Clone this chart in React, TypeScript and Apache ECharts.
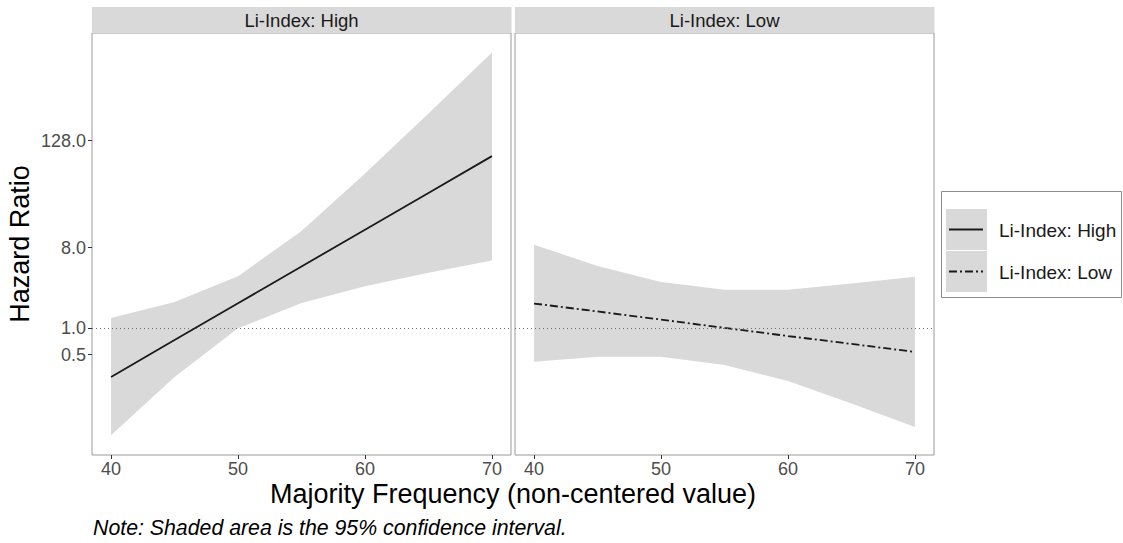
import React, { useEffect, useRef } from "react";
import * as echarts from "echarts";

// Majority frequency (x) and hazard ratios
const xs = [40, 45, 50, 55, 60, 65, 70];
const highFit = [0.28, 0.73, 1.89, 4.91, 12.7, 33.0, 85.6];
const highLower = [0.062, 0.28, 0.99, 1.9, 2.95, 4.17, 5.74];
const highUpper = [1.29, 1.96, 3.81, 12.3, 54.6, 258, 1252];
const lowFit = [1.88, 1.53, 1.24, 1.0, 0.81, 0.66, 0.536];
const lowLower = [0.415, 0.473, 0.473, 0.382, 0.252, 0.141, 0.077];
const lowUpper = [8.63, 4.96, 3.29, 2.69, 2.69, 3.16, 3.76];
const yTicks = [0.5, 1, 8, 128];
const xTicks = [40, 50, 60, 70];
const panels = ["Li-Index: High", "Li-Index: Low"];
const legendLabels = ["Li-Index: High", "Li-Index: Low"];

const FONT = "'Liberation Sans', Arial, sans-serif";
const RIBBON = "#d9d9d9";
const LINE = "#1a1a1a";
const DOTDASH = [8, 3, 2, 3];

const Y_MIN = -4.75;
const Y_MAX = 11.02;

function ribbonSeries(idx: number, lower: number[], upper: number[]) {
  return {
    type: "custom",
    xAxisIndex: idx,
    yAxisIndex: idx,
    z: 1,
    silent: true,
    data: xs.map((x, i) => [x, Math.log2(lower[i]), Math.log2(upper[i])]),
    renderItem: (params: any, api: any) => {
      if (params.dataIndex !== 0) return null;
      const top = xs.map((x, i) => api.coord([x, Math.log2(upper[i])]));
      const bottom = xs
        .map((x, i) => api.coord([x, Math.log2(lower[i])]))
        .reverse();
      return {
        type: "polygon",
        shape: { points: top.concat(bottom) },
        style: { fill: RIBBON, stroke: "none" },
      };
    },
  };
}

function lineSeries(idx: number, name: string, fit: number[], dash: any) {
  return {
    type: "line",
    name,
    xAxisIndex: idx,
    yAxisIndex: idx,
    z: 3,
    showSymbol: false,
    silent: true,
    data: xs.map((x, i) => [x, Math.log2(fit[i])]),
    lineStyle: { color: LINE, width: 1.8, type: dash },
    markLine: {
      silent: true,
      symbol: ["none", "none"],
      label: { show: false },
      lineStyle: { type: [1, 3], color: "#707070", width: 1 },
      data: [{ yAxis: 0 }],
    },
  };
}

export default function App() {
  const ref = useRef<HTMLDivElement>(null);
  useEffect(() => {
    if (!ref.current) return;
    const chart = echarts.init(ref.current, undefined, { renderer: "svg" });
    const gridLefts = [92, 515];
    const gridW = 419;
    const gridTop = 33;
    const gridH = 422;

    const xAxis = [0, 1].map((i) => ({
      type: "value",
      gridIndex: i,
      position: "bottom",
      min: 38.5,
      max: 71.5,
      axisLine: { show: false, onZero: false },
      splitLine: { show: false },
      axisTick: {
        show: true,
        customValues: xTicks,
        length: 4,
        lineStyle: { color: "#333333", width: 1 },
      },
      axisLabel: {
        customValues: xTicks,
        color: "#4d4d4d",
        fontSize: 18,
        fontFamily: FONT,
        margin: 5,
      },
    }));

    const yAxis = [0, 1].map((i) => ({
      type: "value",
      gridIndex: i,
      position: "left",
      min: Y_MIN,
      max: Y_MAX,
      axisLine: { show: false, onZero: false },
      splitLine: { show: false },
      axisTick: {
        show: i === 0,
        customValues: yTicks.map((v) => Math.log2(v)),
        length: 4,
        lineStyle: { color: "#333333", width: 1 },
      },
      axisLabel: {
        show: i === 0,
        customValues: yTicks.map((v) => Math.log2(v)),
        formatter: (v: number) => Math.pow(2, v).toFixed(1),
        color: "#4d4d4d",
        fontSize: 18,
        fontFamily: FONT,
        margin: 6,
      },
    }));

    const graphic: any[] = [];
    panels.forEach((p, i) => {
      graphic.push({
        type: "rect",
        shape: { x: gridLefts[i], y: 7, width: gridW + 0.5, height: 26 },
        style: { fill: RIBBON },
        silent: true,
      });
      graphic.push({
        type: "text",
        x: gridLefts[i] + gridW / 2,
        y: 20,
        style: {
          text: p,
          fill: "#1a1a1a",
          fontSize: 18.5,
          fontFamily: FONT,
          align: "center",
          verticalAlign: "middle",
        },
        silent: true,
      });
    });
    graphic.push({
      type: "text",
      x: 20,
      y: 244,
      rotation: Math.PI / 2,
      style: {
        text: "Hazard Ratio",
        fill: "#000",
        fontSize: 27,
        fontFamily: FONT,
        align: "center",
        verticalAlign: "middle",
      },
      silent: true,
    });
    graphic.push({
      type: "text",
      x: 513,
      y: 494,
      style: {
        text: "Majority Frequency (non-centered value)",
        fill: "#000",
        fontSize: 27,
        fontFamily: FONT,
        align: "center",
        verticalAlign: "middle",
      },
      silent: true,
    });
    graphic.push({
      type: "text",
      x: 93,
      y: 528,
      style: {
        text: "Note: Shaded area is the 95% confidence interval.",
        fill: "#000",
        fontSize: 21.3,
        fontStyle: "italic",
        fontFamily: FONT,
        align: "left",
        verticalAlign: "middle",
      },
      silent: true,
    });
    // legend
    graphic.push({
      type: "rect",
      shape: { x: 941.5, y: 191.5, width: 180, height: 106 },
      style: { fill: "#fff", stroke: "#8c8c8c", lineWidth: 1 },
      silent: true,
    });
    const dashes: any[] = [null, DOTDASH];
    legendLabels.forEach((lab, i) => {
      const ky = 209 + i * 42;
      graphic.push({
        type: "rect",
        shape: { x: 946, y: ky, width: 41, height: 41 },
        style: { fill: RIBBON },
        silent: true,
      });
      graphic.push({
        type: "line",
        shape: { x1: 949, y1: ky + 20.5, x2: 983, y2: ky + 20.5 },
        style: {
          stroke: LINE,
          lineWidth: 1.8,
          lineDash: dashes[i] || undefined,
        },
        silent: true,
      });
      graphic.push({
        type: "text",
        x: 999,
        y: ky + 21,
        style: {
          text: lab,
          fill: "#1a1a1a",
          fontSize: 19,
          fontFamily: FONT,
          align: "left",
          verticalAlign: "middle",
        },
        silent: true,
      });
    });

    chart.setOption({
      animation: false,
      backgroundColor: "#ffffff",
      grid: gridLefts.map((l) => ({
        left: l,
        top: gridTop,
        width: gridW,
        height: gridH,
        show: true,
        backgroundColor: "#ffffff",
        borderColor: "#9a9a9a",
        borderWidth: 1,
      })),
      xAxis,
      yAxis,
      series: [
        ribbonSeries(0, highLower, highUpper),
        lineSeries(0, "Li-Index: High", highFit, "solid"),
        ribbonSeries(1, lowLower, lowUpper),
        lineSeries(1, "Li-Index: Low", lowFit, DOTDASH),
      ],
      graphic,
    });
    return () => chart.dispose();
  }, []);
  return (
    <div
      ref={ref}
      style={{ position: "fixed", left: 0, top: 0, width: 1123, height: 543 }}
    />
  );
}
